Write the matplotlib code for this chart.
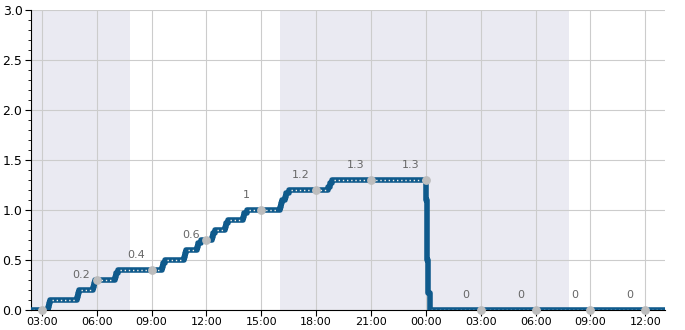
import matplotlib
matplotlib.use("Agg")
import matplotlib.pyplot as plt
import matplotlib.dates as mdates
import pandas as pd

# step series (time, value)
step_times = ["2024-01-01 02:24", "2024-01-01 03:20", "2024-01-01 03:23", "2024-01-01 03:26",
              "2024-01-01 04:55", "2024-01-01 04:58", "2024-01-01 05:02",
              "2024-01-01 05:47", "2024-01-01 05:50", "2024-01-01 05:54",
              "2024-01-01 07:00", "2024-01-01 07:04", "2024-01-01 07:09",
              "2024-01-01 09:34", "2024-01-01 09:38", "2024-01-01 09:44",
              "2024-01-01 10:46", "2024-01-01 10:49", "2024-01-01 10:53",
              "2024-01-01 11:29", "2024-01-01 11:34", "2024-01-01 11:42",
              "2024-01-01 12:18", "2024-01-01 12:23", "2024-01-01 12:28",
              "2024-01-01 13:01", "2024-01-01 13:05", "2024-01-01 13:11",
              "2024-01-01 14:00", "2024-01-01 14:05", "2024-01-01 14:13",
              "2024-01-01 16:02", "2024-01-01 16:05", "2024-01-01 16:08",
              "2024-01-01 16:18", "2024-01-01 16:22", "2024-01-01 16:30",
              "2024-01-01 18:39", "2024-01-01 18:44", "2024-01-01 18:52",
              "2024-01-02 00:00", "2024-01-02 00:03", "2024-01-02 00:05",
              "2024-01-02 00:08", "2024-01-02 00:12", "2024-01-02 13:05"]
step_values = [0.0, 0.03, 0.07, 0.1,
               0.13, 0.17, 0.2,
               0.23, 0.27, 0.3,
               0.33, 0.37, 0.4,
               0.43, 0.47, 0.5,
               0.53, 0.57, 0.6,
               0.63, 0.67, 0.7,
               0.73, 0.77, 0.8,
               0.83, 0.87, 0.9,
               0.93, 0.97, 1.0,
               1.03, 1.07, 1.1,
               1.13, 1.17, 1.2,
               1.23, 1.27, 1.3,
               1.1, 0.8, 0.5,
               0.17, 0.0, 0.0]

# 3-hourly markers and their labels
mark_times = ["2024-01-01 03:00", "2024-01-01 06:00", "2024-01-01 09:00", "2024-01-01 12:00",
              "2024-01-01 15:00", "2024-01-01 18:00", "2024-01-01 21:00", "2024-01-02 00:00",
              "2024-01-02 03:00", "2024-01-02 06:00", "2024-01-02 09:00", "2024-01-02 12:00"]
mark_values = [0.0, 0.3, 0.4, 0.7, 1.0, 1.2, 1.3, 1.3, 0.0, 0.0, 0.0, 0.0]
mark_labels = ["", "0.2", "0.4", "0.6", "1", "1.2", "1.3", "1.3", "0", "0", "0", "0"]

# shaded (night) periods
night_starts = ["2024-01-01 02:24", "2024-01-01 16:00"]
night_ends = ["2024-01-01 07:48", "2024-01-02 07:48"]

t = pd.to_datetime(step_times)
mt = pd.to_datetime(mark_times)

fig = plt.figure(figsize=(6.85, 3.3), dpi=100)
ax = fig.add_axes([0.045, 0.061, 0.926, 0.909])

for s, e in zip(night_starts, night_ends):
    ax.axvspan(pd.Timestamp(s), pd.Timestamp(e), color="#eaeaf2", lw=0, zorder=0)

ax.plot(t, step_values, drawstyle="steps-post", color="#0f5a8c", lw=4, zorder=3)

# dotted highlight only along the flat stretches
for i in range(len(t) - 1):
    if (t[i + 1] - t[i]) > pd.Timedelta(minutes=20):
        ax.hlines(step_values[i], t[i] + pd.Timedelta(minutes=6), t[i + 1] - pd.Timedelta(minutes=6),
                  color="#f4f0e6", lw=1, linestyles=(0, (1, 2)), zorder=4)

ax.scatter(mt, mark_values, s=28, color="#bdbdbd", zorder=5, clip_on=False)
for x, v, lab in zip(mt, mark_values, mark_labels):
    if lab:
        ax.text(x - pd.Timedelta(minutes=50), float(lab) + 0.15, lab, ha="center",
                va="center", fontsize=8, color="#666666", zorder=6)

ax.set_xlim(pd.Timestamp("2024-01-01 02:24"), pd.Timestamp("2024-01-02 13:05"))
ax.set_ylim(0, 3)
ax.set_yticks([0, 0.5, 1.0, 1.5, 2.0, 2.5, 3.0])
ax.set_yticks([i / 10 for i in range(31)], minor=True)
ax.set_xticks(mt)
ax.xaxis.set_major_formatter(mdates.DateFormatter("%H:%M"))

ax.set_axisbelow(True)
ax.grid(True, color="#cccccc", lw=0.8, zorder=1)
for sp in ["top", "right"]:
    ax.spines[sp].set_visible(False)
ax.spines["left"].set_color("black")
ax.spines["bottom"].set_color("black")
ax.tick_params(axis="x", labelsize=8, length=4, pad=1)
ax.tick_params(axis="y", labelsize=9, length=4, pad=2)
ax.tick_params(axis="y", which="minor", length=2.5)

fig.savefig("out.png", dpi=100)
